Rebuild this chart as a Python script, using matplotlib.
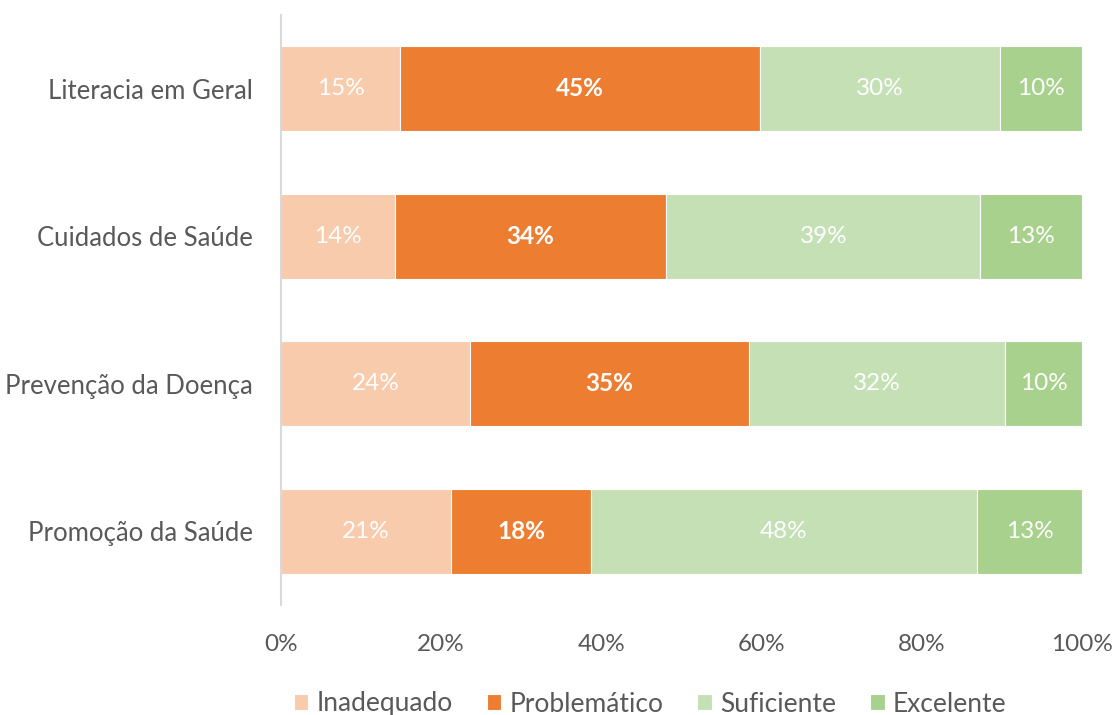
import numpy as np
import matplotlib.pyplot as plt

plt.rcParams['font.family'] = ['Lato', 'DejaVu Sans']

categorias = ['Literacia em Geral', 'Cuidados de Saúde', 'Prevenção da Doença', 'Promoção da Saúde']
series = ['Inadequado', 'Problemático', 'Suficiente', 'Excelente']
inadequado = [14.9, 14.2, 23.6, 21.2]
problematico = [44.9, 33.9, 34.8, 17.5]
suficiente = [30.0, 39.2, 32.0, 48.2]
excelente = [10.2, 12.7, 9.6, 13.1]
cores = ['#F8CBAD', '#ED7D31', '#C5E0B4', '#A9D18E']
xticks = [0, 20, 40, 60, 80, 100]

fig = plt.figure(figsize=(11.18, 7.15), dpi=100)
ax = fig.add_axes([281 / 1118, 1 - 605 / 715, 801 / 1118, 590 / 715])

y = np.arange(len(categorias))
left = np.zeros(len(categorias))
for nome, vals, cor in zip(series, [inadequado, problematico, suficiente, excelente], cores):
    vals = np.array(vals)
    bars = ax.barh(y, vals, left=left, height=0.575, color=cor, edgecolor='white',
                   linewidth=0.8, label=nome)
    peso = 'bold' if nome == 'Problemático' else 'normal'
    for b, v in zip(bars, vals):
        ax.text(b.get_x() + b.get_width() / 2, b.get_y() + b.get_height() / 2,
                '{:.0f}%'.format(v), ha='center', va='center', color='white',
                fontsize=17.5, fontweight=peso)
    left = left + vals

ax.set_ylim(3.5, -0.5)
ax.set_xlim(0, 100)
ax.set_yticks(y)
ax.set_yticklabels(categorias, fontsize=18.5, color='#595959')
ax.set_xticks(xticks)
ax.set_xticklabels(['{}%'.format(t) for t in xticks], fontsize=17.5, color='#595959')
ax.tick_params(axis='both', length=0)
ax.tick_params(axis='y', pad=20)
ax.tick_params(axis='x', pad=21)
for s in ['top', 'right', 'bottom']:
    ax.spines[s].set_visible(False)
ax.spines['left'].set_color('#D9D9D9')
ax.spines['left'].set_linewidth(1.5)

fig.legend(loc='center', bbox_to_anchor=(650 / 1118, 1 - 704 / 715), ncol=4, frameon=False,
           fontsize=19, handlelength=0.55, handleheight=0.55, handletextpad=0.3,
           columnspacing=1.3, labelcolor='#595959')

fig.savefig('out.png', dpi=100)
